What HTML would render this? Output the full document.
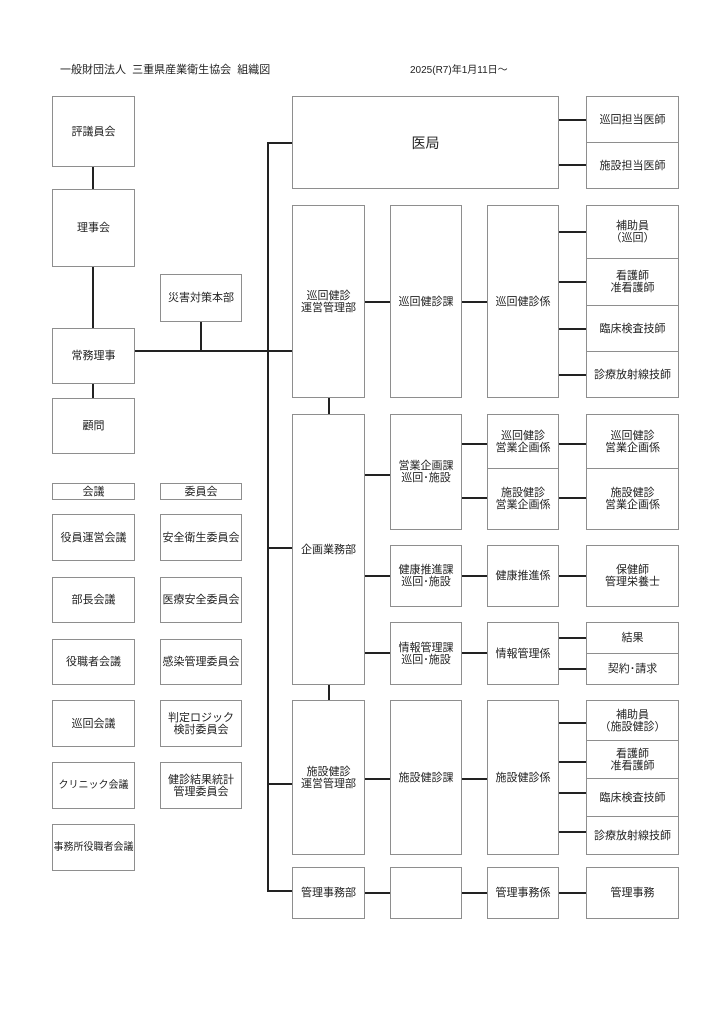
<!DOCTYPE html>
<html><head><meta charset="utf-8"><style>
body{margin:0;width:724px;height:1024px;background:#fff;position:relative;font-family:"Liberation Sans","Noto Sans CJK JP",sans-serif;color:#222;overflow:hidden}
.b{position:absolute;border:1px solid #8e8e8e;box-sizing:border-box;display:flex;align-items:center;justify-content:center;text-align:center;font-size:11px;line-height:12px;background:#fff}
.h{position:absolute;height:2px;background:#222}
.v{position:absolute;width:2px;background:#222}
.t{position:absolute;font-size:11px;white-space:nowrap}
</style></head><body>
<div class="t" style="left:60px;top:61px">一般財団法人&nbsp;&nbsp;三重県産業衛生協会&nbsp;&nbsp;組織図</div>
<div class="t" style="left:410px;top:61px;font-size:10px">2025(R7)年1月11日～</div>

<!-- lines -->
<div class="v" style="left:92px;top:166px;height:23px"></div>
<div class="v" style="left:92px;top:266px;height:62px"></div>
<div class="v" style="left:92px;top:383px;height:15px"></div>
<div class="h" style="left:134px;top:350px;width:135px"></div>
<div class="v" style="left:200px;top:321px;height:30px"></div>
<div class="v" style="left:267px;top:142px;height:750px"></div>
<div class="h" style="left:267px;top:142px;width:25px"></div>
<div class="h" style="left:267px;top:350px;width:25px"></div>
<div class="h" style="left:267px;top:547px;width:25px"></div>
<div class="h" style="left:267px;top:783px;width:25px"></div>
<div class="h" style="left:267px;top:890px;width:25px"></div>
<div class="v" style="left:328px;top:397px;height:17px"></div>
<div class="v" style="left:328px;top:684px;height:16px"></div>
<div class="h" style="left:558px;top:119px;width:28px"></div>
<div class="h" style="left:558px;top:164px;width:28px"></div>
<div class="h" style="left:364px;top:301px;width:26px"></div>
<div class="h" style="left:461px;top:301px;width:26px"></div>
<div class="h" style="left:558px;top:231px;width:28px"></div>
<div class="h" style="left:558px;top:281px;width:28px"></div>
<div class="h" style="left:558px;top:328px;width:28px"></div>
<div class="h" style="left:558px;top:374px;width:28px"></div>
<div class="h" style="left:364px;top:474px;width:26px"></div>
<div class="h" style="left:461px;top:443px;width:26px"></div>
<div class="h" style="left:461px;top:497px;width:26px"></div>
<div class="h" style="left:558px;top:443px;width:28px"></div>
<div class="h" style="left:558px;top:497px;width:28px"></div>
<div class="h" style="left:364px;top:575px;width:26px"></div>
<div class="h" style="left:461px;top:575px;width:26px"></div>
<div class="h" style="left:558px;top:575px;width:28px"></div>
<div class="h" style="left:364px;top:652px;width:26px"></div>
<div class="h" style="left:461px;top:652px;width:26px"></div>
<div class="h" style="left:558px;top:637px;width:28px"></div>
<div class="h" style="left:558px;top:668px;width:28px"></div>
<div class="h" style="left:364px;top:778px;width:26px"></div>
<div class="h" style="left:461px;top:778px;width:26px"></div>
<div class="h" style="left:558px;top:722px;width:28px"></div>
<div class="h" style="left:558px;top:761px;width:28px"></div>
<div class="h" style="left:558px;top:792px;width:28px"></div>
<div class="h" style="left:558px;top:831px;width:28px"></div>
<div class="h" style="left:364px;top:892px;width:26px"></div>
<div class="h" style="left:461px;top:892px;width:26px"></div>
<div class="h" style="left:558px;top:892px;width:28px"></div>

<!-- left -->
<div class="b" style="left:52px;top:96px;width:83px;height:71px">評議員会</div>
<div class="b" style="left:52px;top:189px;width:83px;height:78px">理事会</div>
<div class="b" style="left:52px;top:328px;width:83px;height:56px">常務理事</div>
<div class="b" style="left:52px;top:398px;width:83px;height:56px">顧問</div>
<div class="b" style="left:160px;top:274px;width:82px;height:48px">災害対策本部</div>

<div class="b" style="left:52px;top:483px;width:83px;height:17px">会議</div>
<div class="b" style="left:160px;top:483px;width:82px;height:17px">委員会</div>
<div class="b" style="left:52px;top:514px;width:83px;height:47px">役員運営会議</div>
<div class="b" style="left:52px;top:577px;width:83px;height:46px">部長会議</div>
<div class="b" style="left:52px;top:639px;width:83px;height:46px">役職者会議</div>
<div class="b" style="left:52px;top:700px;width:83px;height:47px">巡回会議</div>
<div class="b" style="left:52px;top:762px;width:83px;height:47px;font-size:10px">クリニック会議</div>
<div class="b" style="left:52px;top:824px;width:83px;height:47px;font-size:10px">事務所役職者会議</div>
<div class="b" style="left:160px;top:514px;width:82px;height:47px">安全衛生委員会</div>
<div class="b" style="left:160px;top:577px;width:82px;height:46px">医療安全委員会</div>
<div class="b" style="left:160px;top:639px;width:82px;height:46px">感染管理委員会</div>
<div class="b" style="left:160px;top:700px;width:82px;height:47px">判定ロジック<br>検討委員会</div>
<div class="b" style="left:160px;top:762px;width:82px;height:47px">健診結果統計<br>管理委員会</div>

<!-- col1 -->
<div class="b" style="left:292px;top:96px;width:267px;height:93px;font-size:14px">医局</div>
<div class="b" style="left:292px;top:205px;width:73px;height:193px">巡回健診<br>運営管理部</div>
<div class="b" style="left:292px;top:414px;width:73px;height:271px">企画業務部</div>
<div class="b" style="left:292px;top:700px;width:73px;height:155px">施設健診<br>運営管理部</div>
<div class="b" style="left:292px;top:867px;width:73px;height:52px">管理事務部</div>
<!-- col2 -->
<div class="b" style="left:390px;top:205px;width:72px;height:193px">巡回健診課</div>
<div class="b" style="left:390px;top:414px;width:72px;height:116px">営業企画課<br>巡回･施設</div>
<div class="b" style="left:390px;top:545px;width:72px;height:62px">健康推進課<br>巡回･施設</div>
<div class="b" style="left:390px;top:622px;width:72px;height:63px">情報管理課<br>巡回･施設</div>
<div class="b" style="left:390px;top:700px;width:72px;height:155px">施設健診課</div>
<div class="b" style="left:390px;top:867px;width:72px;height:52px"></div>
<!-- col3 -->
<div class="b" style="left:487px;top:205px;width:72px;height:193px">巡回健診係</div>
<div class="b" style="left:487px;top:414px;width:72px;height:55px">巡回健診<br>営業企画係</div>
<div class="b" style="left:487px;top:468px;width:72px;height:62px">施設健診<br>営業企画係</div>
<div class="b" style="left:487px;top:545px;width:72px;height:62px">健康推進係</div>
<div class="b" style="left:487px;top:622px;width:72px;height:63px">情報管理係</div>
<div class="b" style="left:487px;top:700px;width:72px;height:155px">施設健診係</div>
<div class="b" style="left:487px;top:867px;width:72px;height:52px">管理事務係</div>
<!-- col4 -->
<div class="b" style="left:586px;top:96px;width:93px;height:47px">巡回担当医師</div>
<div class="b" style="left:586px;top:142px;width:93px;height:47px">施設担当医師</div>
<div class="b" style="left:586px;top:205px;width:93px;height:54px">補助員<br>（巡回）</div>
<div class="b" style="left:586px;top:258px;width:93px;height:48px">看護師<br>准看護師</div>
<div class="b" style="left:586px;top:305px;width:93px;height:47px">臨床検査技師</div>
<div class="b" style="left:586px;top:351px;width:93px;height:47px">診療放射線技師</div>
<div class="b" style="left:586px;top:414px;width:93px;height:55px">巡回健診<br>営業企画係</div>
<div class="b" style="left:586px;top:468px;width:93px;height:62px">施設健診<br>営業企画係</div>
<div class="b" style="left:586px;top:545px;width:93px;height:62px">保健師<br>管理栄養士</div>
<div class="b" style="left:586px;top:622px;width:93px;height:32px">結果</div>
<div class="b" style="left:586px;top:653px;width:93px;height:32px">契約･請求</div>
<div class="b" style="left:586px;top:700px;width:93px;height:41px">補助員<br>（施設健診）</div>
<div class="b" style="left:586px;top:740px;width:93px;height:39px">看護師<br>准看護師</div>
<div class="b" style="left:586px;top:778px;width:93px;height:39px">臨床検査技師</div>
<div class="b" style="left:586px;top:816px;width:93px;height:39px">診療放射線技師</div>
<div class="b" style="left:586px;top:867px;width:93px;height:52px">管理事務</div>
</body></html>
